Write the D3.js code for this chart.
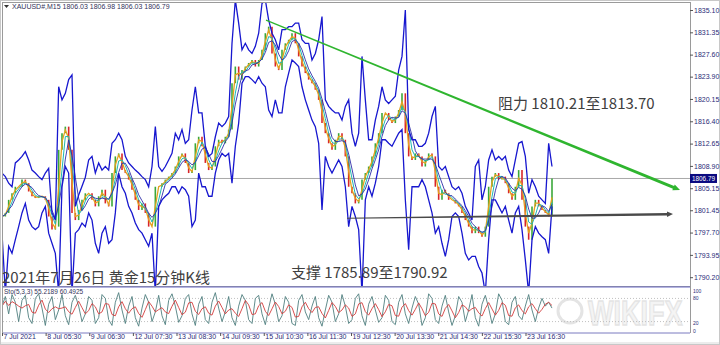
<!DOCTYPE html>
<html>
<head>
<meta charset="utf-8">
<script src="https://cdn.jsdelivr.net/npm/d3@7"></script>
<style>
body { margin: 0; background: #fff; }
svg { display: block; font-family: "Liberation Sans", Arial, sans-serif; }
</style>
</head>
<body>
<div id="chart"></div>
<script>
// price, one sample every ~3.3px (about 7 bars of M15)
const upper = [
  1807.7,1807.1,1806.0,1805.4,1809.4,1809.9,1810.5,1811.3,1809.9,1808.2,1807.7,1807.1,1806.6,1807.7,1808.5,1801.0,1799.8,1822.2,1820.0,1821.1,1823.4,1824.2,1802.1,1804.0,1805.5,1807.0,1809.9,1810.5,1807.7,1809.4,1808.2,1808.8,1808.2,1812.7,1813.3,1814.4,1813.3,1810.5,1809.4,1808.8,1808.2,1807.7,
  1807.1,1806.6,1805.4,1808.8,1815.5,1808.8,1808.0,1808.8,1809.9,1811.0,1814.4,1813.3,1815.0,1812.7,1813.3,1818.3,1822.2,1817.8,1817.8,1812.2,1810.5,1811.0,1813.8,1816.1,1815.5,1816.1,1817.2,1829.5,1836.8,1832.9,1828.4,1829.5,1828.4,1827.8,1829.0,1831.2,1836.2,1836.8,1833.4,1831.2,1830.1,1828.4,
  1831.8,1831.8,1832.3,1832.3,1832.9,1832.9,1830.1,1829.5,1829.5,1826.7,1827.8,1830.1,1834.0,1820.0,1818.9,1818.3,1817.8,1817.8,1816.6,1818.9,1820.0,1814.4,1812.2,1814.4,1827.3,1820.0,1813.3,1813.3,1816.6,1818.9,1822.2,1820.0,1819.4,1820.0,1820.6,1825.0,1827.3,1835.1,1815.0,1813.3,1813.3,1812.2,
  1812.2,1812.7,1814.4,1817.2,1818.9,1808.8,1808.2,1808.8,1807.1,1805.4,1804.9,1805.4,1804.3,1802.1,1801.0,1799.8,1808.8,1809.9,1803.2,1805.4,1809.9,1811.6,1809.9,1810.5,1809.9,1810.5,1808.2,1807.1,1809.9,1812.7,1813.0,1810.5,1804.3,1806.6,1805.4,1803.8,1803.2,1802.6,1812.7,1808.8
];
const mid = [
  1800.4,1801.0,1803.2,1804.3,1805.4,1805.4,1806.6,1806.0,1804.6,1803.8,1803.5,1803.8,1803.8,1803.2,1800.4,1798.2,1798.7,1811.6,1814.4,1815.5,1811.6,1801.0,1799.8,1801.5,1803.2,1804.3,1804.3,1803.2,1802.1,1803.8,1804.9,1802.6,1802.1,1807.7,1810.5,1811.0,1808.2,1807.7,1806.6,1804.9,1803.2,1801.5,
  1802.6,1801.0,1798.7,1798.7,1805.4,1805.4,1806.0,1806.6,1807.1,1807.7,1808.8,1810.5,1811.0,1809.4,1807.7,1808.2,1812.7,1813.8,1812.2,1809.4,1808.2,1808.8,1812.2,1813.3,1812.7,1813.8,1815.0,1822.8,1825.6,1823.4,1825.0,1825.6,1826.2,1826.7,1825.6,1826.7,1828.4,1831.2,1832.3,1827.8,1825.6,1825.0,
  1828.4,1829.5,1830.1,1831.2,1829.5,1827.3,1825.6,1824.5,1823.4,1822.8,1821.7,1820.0,1816.1,1814.4,1812.7,1811.6,1813.3,1814.4,1813.3,1810.5,1805.4,1804.3,1802.6,1803.2,1806.6,1807.7,1808.8,1810.5,1812.7,1814.4,1817.8,1817.8,1816.6,1816.1,1817.2,1818.3,1821.1,1814.4,1810.5,1809.9,1811.0,1810.5,
  1808.8,1809.9,1811.0,1810.5,1805.4,1803.2,1804.9,1804.3,1803.2,1803.2,1802.6,1802.1,1801.0,1799.8,1798.7,1797.6,1798.7,1797.6,1797.0,1798.7,1805.4,1807.1,1807.7,1806.6,1807.1,1806.0,1804.3,1803.2,1805.4,1808.2,1803.2,1798.7,1796.5,1802.1,1803.2,1802.1,1801.5,1801.0,1800.4,1806.8
];
const lower = [
  1797.6,1787.5,1795.4,1794.2,1796.5,1798.7,1801.0,1802.6,1799.8,1798.7,1798.2,1798.7,1801.0,1802.1,1797.6,1795.9,1794.2,1787.5,1805.4,1808.8,1807.7,1787.5,1797.6,1798.2,1799.3,1798.7,1801.0,1799.8,1795.9,1794.2,1797.6,1798.7,1795.9,1796.5,1801.0,1807.7,1805.4,1804.3,1802.1,1801.0,1799.3,1798.2,
  1797.6,1796.5,1795.4,1797.6,1787.5,1802.1,1803.2,1803.8,1804.3,1805.4,1805.4,1804.3,1805.4,1804.9,1803.8,1798.7,1799.8,1807.7,1805.4,1805.4,1803.8,1803.8,1807.7,1809.9,1811.0,1810.5,1811.0,1806.0,1812.2,1816.1,1822.8,1823.9,1823.9,1823.4,1822.8,1823.9,1822.8,1822.2,1818.3,1817.2,1820.0,1817.8,
  1817.8,1822.2,1824.5,1826.7,1826.2,1825.6,1822.2,1820.0,1818.3,1816.6,1815.5,1812.7,1801.5,1810.5,1808.8,1807.7,1808.8,1809.9,1808.8,1805.4,1798.7,1802.1,1800.4,1798.2,1787.5,1803.2,1805.4,1803.8,1806.0,1808.8,1813.3,1813.3,1812.7,1812.2,1813.3,1814.4,1815.0,1803.2,1794.8,1805.4,1805.4,1805.4,
  1806.6,1805.4,1803.2,1801.0,1797.6,1798.7,1795.9,1793.7,1796.5,1800.4,1801.0,1800.4,1797.6,1794.2,1793.1,1793.7,1793.7,1792.0,1790.9,1787.5,1796.5,1803.2,1803.2,1802.1,1801.0,1802.1,1799.8,1797.6,1801.0,1802.1,1798.2,1793.1,1787.5,1796.5,1798.7,1797.6,1797.0,1796.5,1794.2,1802.1
];
// stochastic main line, same sampling
const stoMain = [
  60,85,40,90,70,20,75,88,30,15, 80,92,55,10,65,85,25,50,90,35,
  12,70,88,60,20,40,85,75,15,30, 90,80,25,10,70,95,50,15,60,85,
  30,8,55,90,70,20,45,88,35,12, 75,92,60,18,35,80,90,40,10,65,
  85,25,15,70,95,55,20,45,85,30, 10,60,90,75,25,15,80,88,40,12,
  55,92,65,20,35,85,70,15,10,75, 90,45,25,60,85,30,8,50,88,70,
  20,40,90,60,15,25,80,92,35,10, 65,85,50,18,30,88,75,20,12,70,
  90,40,15,55,85,65,10,30,92,80, 25,15,60,88,45,10,35,85,70,20,
  50,90,30,8,65,88,55,15,40,92, 75,20,12,70,85,35,25,60,90,50,
  20,55,80,60,70,55
];
const priceTicks = [1835.10,1831.35,1827.60,1823.90,1820.15,1816.40,1812.65,1808.90,1805.15,1801.45,1797.70,1793.95,1790.20];
const stoTicks = [100,80,20,0];
const timeLabels = ["7 Jul 2021","8 Jul 05:30","9 Jul 06:30","12 Jul 07:30","13 Jul 08:30","14 Jul 09:30",
  "15 Jul 10:30","16 Jul 11:30","19 Jul 12:30","20 Jul 13:30","21 Jul 14:30","22 Jul 15:30","23 Jul 16:30"];
const lastPrice = 1806.79;
const resistLine = [{i: 79.2, p: 1833.4}, {i: 203.4, p: 1804.85}];
const supportLine = [{i: 103.5, p: 1800.1}, {i: 201.3, p: 1800.8}];

const W = 720, H = 345;
const svg = d3.select('#chart').append('svg').attr('width', W).attr('height', H);

const x = d3.scaleLinear().domain([0, mid.length - 1]).range([2, 552]);
const y = d3.scaleLinear().domain([1835.10, 1790.20]).range([10, 277.2]);
const ys = d3.scaleLinear().domain([0, 100]).range([329.3, 290.7]);
const slot = d3.scaleLinear().domain([0, timeLabels.length - 1]).range([2, 525.5]);

function sma(a, n) {
  return a.map((v, i) => d3.mean(a.slice(Math.max(0, i - n + 1), i + 1)));
}

// frames
svg.append('rect').attr('x', 0.5).attr('y', 0.5).attr('width', W - 1).attr('height', H - 1)
   .attr('fill', 'none').attr('stroke', '#c8c8c8');
svg.append('rect').attr('x', 1).attr('y', 342).attr('width', W - 2).attr('height', 2).attr('fill', '#ececec');
svg.append('rect').attr('x', 2.5).attr('y', 2.5).attr('width', 688).attr('height', 284)
   .attr('fill', 'none').attr('stroke', '#9a9a9a');

svg.append('clipPath').attr('id', 'main').append('rect')
   .attr('x', 3).attr('y', 3).attr('width', 687).attr('height', 283);
svg.append('clipPath').attr('id', 'sub').append('rect')
   .attr('x', 3).attr('y', 288).attr('width', 687).attr('height', 44);

// watermark
const wm = svg.append('g').attr('fill', '#f4f4f4').attr('stroke', '#e4e4e4').attr('stroke-width', 1);
wm.append('circle').attr('cx', 570).attr('cy', 311).attr('r', 12).attr('fill', 'none').attr('stroke-width', 3);
wm.append('text').attr('transform', 'translate(588,325) scale(1,1.3)').attr('font-size', 27)
  .attr('font-weight', 'bold').text('WIKIFX');

const g = svg.append('g').attr('clip-path', 'url(#main)');

// current price line
g.append('line').attr('x1', 3).attr('x2', 690).attr('y1', y(lastPrice)).attr('y2', y(lastPrice))
 .attr('stroke', '#a8a8a8').attr('stroke-width', 1);

const line = d3.line().x((d, i) => x(i)).y(d => y(d));

// candles-ish: body between consecutive samples
g.selectAll('.bar').data(mid.slice(1)).enter().append('line')
 .attr('x1', (d, i) => x(i + 1)).attr('x2', (d, i) => x(i + 1))
 .attr('y1', (d, i) => y(mid[i])).attr('y2', d => y(d))
 .attr('stroke', (d, i) => d >= mid[i] ? '#3aa83a' : '#d8262a')
 .attr('stroke-width', 1.6);

g.append('path').datum(sma(mid, 2)).attr('d', line).attr('fill', 'none')
 .attr('stroke', '#e2a21e').attr('stroke-width', 1.3);
g.append('path').datum(sma(mid, 3)).attr('d', line).attr('fill', 'none')
 .attr('stroke', '#1fb8b0').attr('stroke-width', 1);
g.append('path').datum(sma(mid, 4)).attr('d', line).attr('fill', 'none')
 .attr('stroke', '#2c2ca8').attr('stroke-width', 0.9);

// bands
g.append('path').datum(upper).attr('d', line).attr('fill', 'none')
 .attr('stroke', '#1717cf').attr('stroke-width', 1.3);
g.append('path').datum(lower).attr('d', line).attr('fill', 'none')
 .attr('stroke', '#1717cf').attr('stroke-width', 1.3);

// trend arrows
function arrow(pts, w0, w1, head, hw, color) {
  const p0 = [x(pts[0].i), y(pts[0].p)], p1 = [x(pts[1].i), y(pts[1].p)];
  const dx = p1[0] - p0[0], dy = p1[1] - p0[1], L = Math.hypot(dx, dy);
  const ux = dx / L, uy = dy / L, nx = -uy, ny = ux;
  const b = [p1[0] - ux * head, p1[1] - uy * head];
  const poly = [
    [p0[0] + nx * w0 / 2, p0[1] + ny * w0 / 2],
    [b[0] + nx * w1 / 2, b[1] + ny * w1 / 2],
    [b[0] + nx * hw, b[1] + ny * hw],
    p1,
    [b[0] - nx * hw, b[1] - ny * hw],
    [b[0] - nx * w1 / 2, b[1] - ny * w1 / 2],
    [p0[0] - nx * w0 / 2, p0[1] - ny * w0 / 2]
  ];
  svg.append('path').attr('d', 'M' + poly.join('L') + 'Z').attr('fill', color);
}
arrow(resistLine, 1.1, 3.2, 7, 3.2, '#2fb52f');
arrow(supportLine, 1.1, 2.6, 6, 2.8, '#4a4a4a');

// right price axis
const yAxis = svg.append('g').attr('transform', 'translate(690,0)')
  .call(d3.axisRight(y).tickValues(priceTicks).tickFormat(d3.format('.2f')).tickSize(3));
yAxis.select('.domain').remove();
yAxis.selectAll('line').attr('stroke', '#555');
yAxis.selectAll('text').attr('font-size', 7).attr('fill', '#2b2b78').attr('x', 4);

svg.append('rect').attr('x', 690).attr('y', y(lastPrice) - 4.5).attr('width', 27).attr('height', 9).attr('fill', '#0a0a80');
svg.append('text').attr('x', 692).attr('y', y(lastPrice) + 2.5).attr('font-size', 6.5).attr('fill', '#fff')
   .attr('textLength', 23).attr('lengthAdjust', 'spacingAndGlyphs').text('1806.79');

// header
svg.append('path').attr('d', 'M4,5 L9,5 L6.5,8 Z').attr('fill', '#333');
svg.append('text').attr('x', 12).attr('y', 9).attr('font-size', 7).attr('fill', '#33335a')
   .text('XAUUSD#,M15  1806.03 1806.98 1806.03 1806.79');

// stochastic panel
svg.append('line').attr('x1', 2).attr('x2', 690).attr('y1', 287).attr('y2', 287).attr('stroke', '#6b6bc6').attr('stroke-width', 1.2);
svg.append('line').attr('x1', 2).attr('x2', 690).attr('y1', 333).attr('y2', 333).attr('stroke', '#7a7ac0').attr('stroke-width', 1);
svg.append('line').attr('x1', 2.5).attr('x2', 2.5).attr('y1', 287).attr('y2', 333).attr('stroke', '#9a9a9a');
svg.append('line').attr('x1', 690.5).attr('x2', 690.5).attr('y1', 287).attr('y2', 333).attr('stroke', '#9a9a9a');
const sg = svg.append('g').attr('clip-path', 'url(#sub)');
[80, 20].forEach(v => sg.append('line').attr('x1', 3).attr('x2', 690).attr('y1', ys(v)).attr('y2', ys(v))
  .attr('stroke', '#c0c0c0').attr('stroke-dasharray', '1,2'));
const sline = d3.line().x((d, i) => x(i)).y(d => ys(d));
sg.append('path').datum(stoMain).attr('d', sline).attr('fill', 'none').attr('stroke', '#4f7f7f').attr('stroke-width', 0.9);
sg.append('path').datum(sma(stoMain, 3)).attr('d', sline).attr('fill', 'none').attr('stroke', '#d23c3c').attr('stroke-width', 0.9);
svg.append('text').attr('x', 4).attr('y', 294).attr('font-size', 6.5).attr('fill', '#33335a')
   .text('Sto(5,3,3) 55.2189 60.4925');
// level labels, spread a little so they do not collide
const stoLabelY = {100: 292.5, 80: 300, 20: 325, 0: 332.5};
svg.append('g').selectAll('text').data(stoTicks).enter().append('text')
   .attr('x', 693).attr('y', d => stoLabelY[d]).attr('font-size', 5).attr('fill', '#2b2b78').text(d => d);

// time axis
const xAxis = svg.append('g').attr('transform', 'translate(0,333)')
  .call(d3.axisBottom(slot).tickValues(d3.range(timeLabels.length)).tickFormat(i => timeLabels[i]).tickSize(3));
xAxis.select('.domain').remove();
xAxis.selectAll('line').attr('stroke', '#555');
xAxis.selectAll('text').attr('font-size', 7).attr('fill', '#2b2b78').attr('text-anchor', 'start').attr('dx', 1).attr('y', 1);

// annotations
const cjk = '"Noto Sans CJK SC", "Noto Sans", sans-serif';
svg.append('text').attr('x', 498).attr('y', 109).attr('font-size', 15).attr('font-family', cjk)
   .attr('fill', '#404040').text('阻力 1810.21至1813.70');
svg.append('text').attr('x', 291).attr('y', 278).attr('font-size', 15).attr('font-family', cjk)
   .attr('fill', '#404040').text('支撑 1785.89至1790.92');
svg.append('text').attr('x', 2).attr('y', 283).attr('font-size', 15).attr('font-family', cjk)
   .attr('fill', '#404040').text('2021年7月26日 黄金15分钟K线');
</script>
</body>
</html>
